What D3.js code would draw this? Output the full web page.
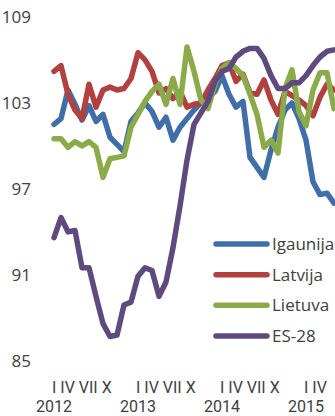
<!DOCTYPE html>
<html>
<head>
<meta charset="utf-8">
<script src="https://cdn.jsdelivr.net/npm/d3@7"></script>
<style>
  html, body { margin: 0; padding: 0; background: #fff; }
  svg { display: block; }
  text { font-family: "Open Sans", "Noto Sans", sans-serif; fill: #404040; }
  text.xlab { font-family: Roboto, "Liberation Sans", sans-serif; }
</style>
</head>
<body>
<svg id="chart" width="335" height="416"></svg>
<script>
// Monthly index values, January 2012 onwards
const years = [2012, 2013, 2014, 2015];
const quarterLabels = ["I IV VII X", "I IV VII X", "I IV VII X", "I IV"];
const yTicks = [85, 91, 97, 103, 109];

const igaunija = [101.3, 101.7, 103.7, 102.7, 101.6, 102.6, 101.5, 102.0, 100.4, 99.9, 99.4, 101.5,
                  102.1, 102.8, 102.2, 101.1, 101.8, 100.2, 101.1, 101.7, 102.3, 102.8, 103.2, 103.6,
                  104.7, 103.4, 102.5, 102.9, 99.0, 98.3, 97.6, 99.5, 101.1, 102.3, 102.8, 101.7,
                  100.2, 97.3, 96.4, 96.5, 95.8];
const latvija = [105.0, 105.4, 103.4, 102.3, 101.7, 104.1, 102.5, 103.7, 103.9, 103.7, 103.8, 104.5,
                 106.3, 105.8, 105.0, 103.5, 103.8, 103.1, 103.6, 102.5, 102.7, 102.8, 103.7, 104.5,
                 105.4, 105.6, 104.3, 104.8, 103.5, 103.4, 104.4, 103.0, 102.0, 103.6, 103.3, 103.0,
                 102.6, 101.9, 103.2, 104.1, 103.7];
const lietuva = [100.3, 100.3, 99.7, 100.1, 99.8, 100.1, 99.7, 97.6, 98.9, 99.0, 99.1, 101.1,
                 102.0, 102.9, 103.6, 104.1, 102.7, 104.5, 102.7, 106.7, 105.0, 103.0, 102.4, 104.1,
                 105.2, 105.6, 105.2, 104.7, 103.4, 102.0, 99.7, 100.2, 99.3, 103.8, 105.1, 102.2,
                 101.2, 103.7, 104.9, 104.9, 102.4];
const es28 = [93.4, 94.8, 93.8, 93.9, 91.3, 91.3, 89.3, 87.4, 86.5, 86.6, 88.7, 88.9,
              90.7, 91.3, 91.1, 89.3, 90.3, 92.7, 95.6, 98.8, 101.3, 102.1, 102.9, 104.3,
              105.0, 105.2, 106.0, 106.4, 106.6, 106.6, 105.9, 104.7, 103.8, 103.8, 104.2, 104.2,
              104.7, 105.4, 106.0, 106.4, 106.5];

const seriesNames = ["Igaunija", "Latvija", "Lietuva", "ES-28"];
const seriesColors = ["#3f6ea8", "#b0413e", "#8baa4a", "#5f4a7e"];
const seriesValues = [igaunija, latvija, lietuva, es28];

const svg = d3.select("#chart");
const W = 335;

const nMonths = igaunija.length;
const x = d3.scaleLinear().domain([0, nMonths - 1]).range([54, 334]);
const y = d3.scaleLinear().domain([85, 109]).range([358, 14]);

// y-axis labels only (no axis line, no ticks)
const yAxis = d3.axisLeft(y).tickValues(yTicks).tickSize(0).tickPadding(0);
const gy = svg.append("g").attr("transform", "translate(31,0)").call(yAxis);
gy.select(".domain").remove();
gy.selectAll("text")
  .attr("dy", "0.52em")
  .style("font-size", "17px")
  .style("font-family", "\"Open Sans\", sans-serif")
  .attr("fill", "#404040");

// lines
const line = d3.line().x((d, i) => x(i)).y(d => y(d)).curve(d3.curveLinear);
svg.append("clipPath").attr("id", "plotclip")
  .append("rect").attr("x", 0).attr("y", 0).attr("width", W).attr("height", 370);

const plot = svg.append("g").attr("clip-path", "url(#plotclip)");
seriesValues.forEach((vals, k) => {
  plot.append("path")
    .datum(vals)
    .attr("d", line)
    .attr("fill", "none")
    .attr("stroke", seriesColors[k])
    .attr("stroke-width", 5.5)
    .attr("stroke-linejoin", "round")
    .attr("stroke-linecap", "round");
});

// x-axis labels: quarter numerals per year, year on the row below
const xl = svg.append("g");
years.forEach((yr, j) => {
  const x0 = x(j * 12);
  xl.append("text")
    .attr("class", "xlab")
    .attr("x", x0 - 2)
    .attr("y", 393)
    .attr("xml:space", "preserve")
    .style("font-size", "16px")
    .text(quarterLabels[j]);
  xl.append("text")
    .attr("class", "xlab")
    .attr("x", x0)
    .attr("y", 412)
    .attr("text-anchor", "middle")
    .style("font-size", "16px")
    .text(yr);
});

// legend
const legendY = d3.scaleLinear().domain([0, 3]).range([244, 336]);
const lg = svg.append("g");
seriesNames.forEach((name, k) => {
  const ly = legendY(k);
  lg.append("line")
    .attr("x1", 216).attr("x2", 267)
    .attr("y1", ly).attr("y2", ly)
    .attr("stroke", seriesColors[k])
    .attr("stroke-width", 5.5)
    .attr("stroke-linecap", "round");
  lg.append("text")
    .attr("x", 272)
    .attr("y", ly)
    .attr("dy", "0.36em")
    .style("font-size", "17px")
    .text(name);
});
</script>
</body>
</html>
